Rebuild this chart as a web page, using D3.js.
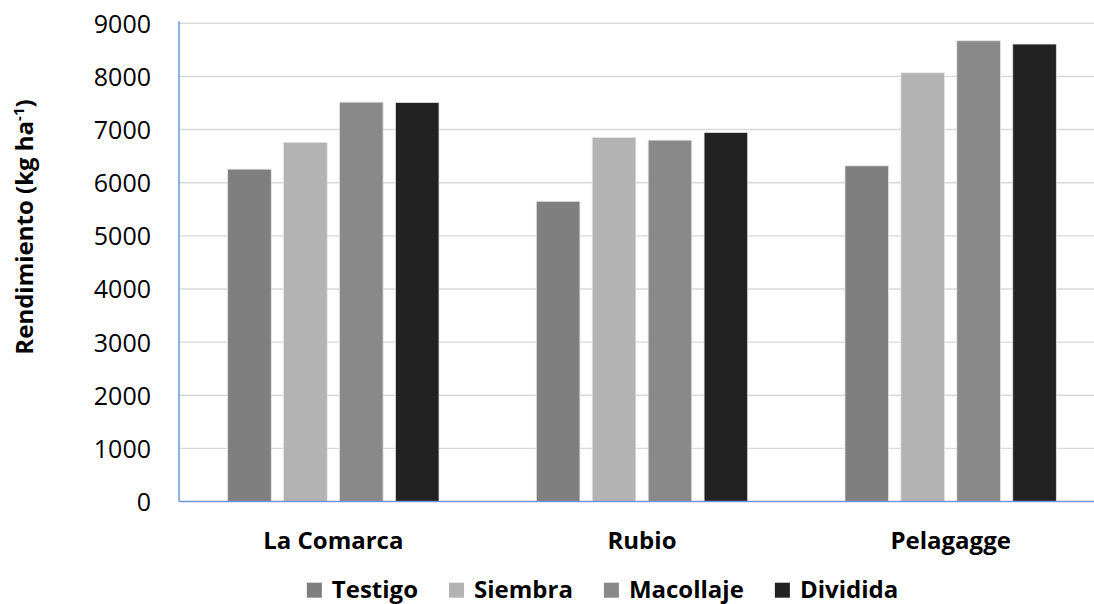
<!DOCTYPE html>
<html>
<head>
<meta charset="utf-8">
<script src="https://cdn.jsdelivr.net/npm/d3@7"></script>
<style>
  html, body { margin: 0; padding: 0; background: #fff; }
  svg { display: block; }
  text { font-family: "Open Sans", "Noto Sans", sans-serif; fill: #000; }
</style>
</head>
<body>
<svg id="chart" width="1094" height="604"></svg>
<script>
// Grain yield by variety and nitrogen application timing
const categories = ["La Comarca", "Rubio", "Pelagagge"];
const series = ["Testigo", "Siembra", "Macollaje", "Dividida"];
const testigo   = [6255, 5650, 6317];
const siembra   = [6760, 6852, 8068];
const macollaje = [7516, 6801, 8671];
const dividida  = [7509, 6946, 8610];
const yTicks = [0, 1000, 2000, 3000, 4000, 5000, 6000, 7000, 8000, 9000];
const seriesValues = { Testigo: testigo, Siembra: siembra, Macollaje: macollaje, Dividida: dividida };
const colors = { Testigo: "#7f7f7f", Siembra: "#b3b3b3", Macollaje: "#898989", Dividida: "#222222" };

const svg = d3.select("#chart");
const plot = { left: 179, right: 1105, top: 23.3, bottom: 501.5 };

const y = d3.scaleLinear().domain([0, 9000]).range([plot.bottom, plot.top]);
const x0 = d3.scaleBand().domain(categories).range([plot.left, plot.right]).padding(0);
const x1 = d3.scaleBand().domain(series).range([0, x0.bandwidth()])
  .paddingInner(0.22).paddingOuter(0.87);

// horizontal gridlines
svg.append("g").selectAll("line").data(yTicks.filter(d => d > 0)).join("line")
  .attr("x1", plot.left).attr("x2", 1094)
  .attr("y1", d => y(d)).attr("y2", d => y(d))
  .attr("stroke", "#d9d9d9").attr("stroke-width", 1.4);

// bars
const rows = categories.map((c, i) => ({ cat: c, vals: series.map(s => ({ s, v: seriesValues[s][i] })) }));
svg.append("g").selectAll("g").data(rows).join("g")
  .attr("transform", d => `translate(${x0(d.cat)},0)`)
  .selectAll("rect").data(d => d.vals).join("rect")
  .attr("x", d => x1(d.s))
  .attr("width", x1.bandwidth())
  .attr("y", d => y(d.v))
  .attr("height", d => y(0) - y(d.v))
  .attr("fill", d => colors[d.s])
  .attr("stroke", "#e4e4e4").attr("stroke-width", 0.8);

// y axis labels
const yAxis = d3.axisLeft(y).tickValues(yTicks).tickFormat(d3.format("d"))
  .tickSize(0).tickPadding(28);
const ya = svg.append("g").attr("transform", `translate(${plot.left},0)`).call(yAxis);
ya.select(".domain").remove();
ya.selectAll("text")
  .style("font-family", "'Open Sans', sans-serif")
  .style("font-size", "25px").attr("fill", "#000").attr("dy", "0.36em");

// axis lines
svg.append("line").attr("x1", plot.left).attr("x2", plot.left)
  .attr("y1", plot.top - 2).attr("y2", plot.bottom)
  .attr("stroke", "#6f97d4").attr("stroke-width", 1.5);
svg.append("line").attr("x1", plot.left).attr("x2", 1094)
  .attr("y1", plot.bottom).attr("y2", plot.bottom)
  .attr("stroke", "#6f97d4").attr("stroke-width", 1.5);

// category labels
svg.append("g").selectAll("text").data(categories).join("text")
  .attr("x", d => x0(d) + x0.bandwidth() / 2)
  .attr("y", 549.3)
  .attr("text-anchor", "middle")
  .style("font-size", "24px").style("font-weight", "bold")
  .text(d => d);

// y axis title
const title = svg.append("text")
  .attr("transform", "translate(33,227) rotate(-90)")
  .attr("text-anchor", "middle")
  .style("font-size", "24px").style("font-weight", "bold");
title.append("tspan").text("Rendimiento (kg ha");
title.append("tspan").attr("dy", "-9").style("font-size", "15px").text("-1");
title.append("tspan").attr("dy", "9").text(")");

// legend
const legend = svg.append("g");
const items = legend.selectAll("g").data(series).join("g");
items.append("rect").attr("width", 15).attr("height", 15).attr("y", 582.7)
  .attr("fill", d => colors[d]);
items.append("text").attr("x", 25).attr("y", 597.6)
  .style("font-size", "24px").style("font-weight", "bold")
  .text(d => d);
let cursor = 0;
items.each(function () {
  const g = d3.select(this);
  g.attr("transform", `translate(${cursor},0)`);
  const w = g.select("text").node().getComputedTextLength();
  cursor += 25 + w + 31;
});
const total = cursor - 31;
legend.attr("transform", `translate(${602.5 - total / 2},0)`);
</script>
</body>
</html>
